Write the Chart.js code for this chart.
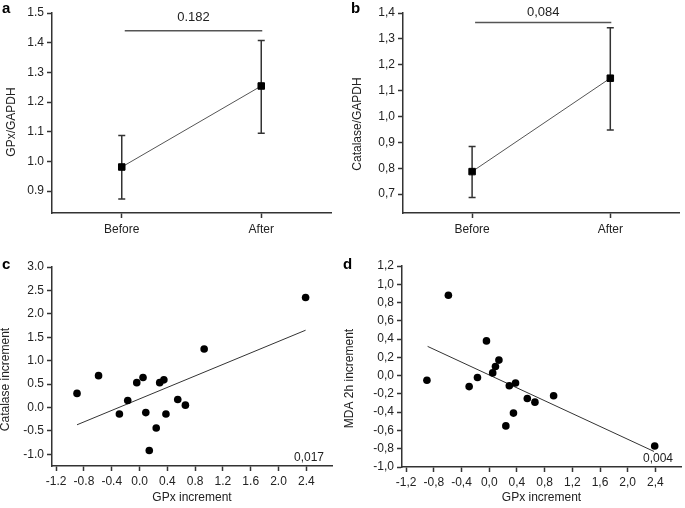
<!DOCTYPE html>
<html>
<head>
<meta charset="utf-8">
<script src="https://cdn.jsdelivr.net/npm/chart.js@4.4.0/dist/chart.umd.min.js"></script>
<style>
body { margin: 0; background: #fff; width: 685px; height: 508px; position: relative; overflow: hidden; font-family: "Liberation Sans", Arial, sans-serif; }
.panel { position: absolute; }
.tag { position: absolute; font-weight: bold; font-size: 15px; line-height: 15px; color: #000; }
</style>
</head>
<body>
<div class="panel" style="left:0;top:0"><canvas id="chartA" width="340" height="250"></canvas></div>
<div class="panel" style="left:340px;top:0"><canvas id="chartB" width="345" height="250"></canvas></div>
<div class="panel" style="left:0;top:250px"><canvas id="chartC" width="340" height="258"></canvas></div>
<div class="panel" style="left:340px;top:250px"><canvas id="chartD" width="345" height="258"></canvas></div>
<div class="tag" style="left:2px;top:0">a</div>
<div class="tag" style="left:351px;top:0">b</div>
<div class="tag" style="left:2px;top:256px">c</div>
<div class="tag" style="left:343px;top:256px">d</div>
<script>
//======================================================================================================
// Data
//======================================================================================================
var groups = ['Before', 'After'];

// panel a: GPx/GAPDH, mean with error bar
var gpxMean  = [0.981, 1.254];
var gpxLow   = [0.873, 1.095];
var gpxHigh  = [1.087, 1.407];
var gpxTicks = [0.9, 1.0, 1.1, 1.2, 1.3, 1.4, 1.5];

// panel b: Catalase/GAPDH
var catMean  = [0.787, 1.148];
var catLow   = [0.687, 0.948];
var catHigh  = [0.884, 1.343];
var catTicks = [0.7, 0.8, 0.9, 1.0, 1.1, 1.2, 1.3, 1.4];

// panels c and d: increments per subject
var gpxInc = [-0.90, -0.59, -0.29, -0.17, -0.04, 0.05, 0.09, 0.14, 0.24, 0.29, 0.35, 0.38, 0.55, 0.66, 0.93, 2.39];
var catInc = [ 0.30,  0.68, -0.14,  0.15,  0.53, 0.64, -0.11, -0.92, -0.44, 0.53, 0.59, -0.14, 0.17, 0.05, 1.25, 2.35];
var mdaInc = [-0.05,  0.88, -0.12, -0.02,  0.38, 0.03, 0.10, 0.17, -0.55, -0.11, -0.41, -0.08, -0.25, -0.29, -0.22, -0.77];

// regression lines (end points)
var fitCx = [-0.90, 2.39];
var fitCy = [-0.37, 1.65];
var fitDx = [-0.89, 2.38];
var fitDy = [0.32, -0.83];

var incTicksX   = [-1.2, -0.8, -0.4, 0.0, 0.4, 0.8, 1.2, 1.6, 2.0, 2.4];
var catIncTicks = [-1.0, -0.5, 0.0, 0.5, 1.0, 1.5, 2.0, 2.5, 3.0];
var mdaIncTicks = [-1.0, -0.8, -0.6, -0.4, -0.2, 0.0, 0.2, 0.4, 0.6, 0.8, 1.0, 1.2];

var FONT = '"Liberation Sans", Arial, sans-serif';
var INK = '#222';
var AXIS = '#333';

function fmt(v, comma)
{
	var s = Number(v).toFixed(1);
	return comma ? s.replace('.', ',') : s;
}

function pairs(xs, ys)
{
	var out = [];
	for (var i = 0; i < xs.length; i++)
		out.push({ x: xs[i], y: ys[i] });
	return out;
}

// value axis (left or bottom) with ticks taken from a list
function valueAxis(min, max, ticks, comma, size, horizontal, title)
{
	var ax = {
		type: 'linear',
		min: min,
		max: max,
		afterBuildTicks: function(s) { s.ticks = ticks.map(function(v) { return { value: v }; }); },
		afterFit: function(s) { if (horizontal) s.height = size; else s.width = size; },
		ticks: {
			color: INK, autoSkip: false, maxRotation: 0, padding: 3,
			font: { size: 12, family: FONT },
			callback: function(v) { return fmt(v, comma); }
		},
		grid: { drawOnChartArea: false, tickLength: 5, tickColor: AXIS, tickWidth: 1.5 },
		border: { color: AXIS, width: 1.5 }
	};
	if (title)
		ax.title = { display: true, text: title, color: INK, font: { size: 12, family: FONT }, padding: { top: 0, bottom: 3 } };
	return ax;
}

function groupAxis(size)
{
	return {
		type: 'category',
		offset: true,
		afterFit: function(s) { s.height = size; },
		ticks: { color: INK, padding: 4, font: { size: 12, family: FONT } },
		grid: { drawOnChartArea: false, tickLength: 5, tickColor: AXIS, tickWidth: 1.5 },
		border: { color: AXIS, width: 1.5 }
	};
}

// error bars, p-value bracket, corner p-value and y title
var extras = {
	id: 'extras',
	beforeDatasetsDraw: function(chart) {
		var o = chart.options.plugins.extras;
		if (!o || !o.low) return;
		var ctx = chart.ctx, xs = chart.scales.x, ys = chart.scales.y;
		ctx.save();
		ctx.strokeStyle = AXIS;
		ctx.lineWidth = 1.5;
		for (var i = 0; i < o.low.length; i++)
		{
			var x = xs.getPixelForValue(i);
			var y0 = ys.getPixelForValue(o.low[i]);
			var y1 = ys.getPixelForValue(o.high[i]);
			ctx.beginPath();
			ctx.moveTo(x, y0); ctx.lineTo(x, y1);
			ctx.moveTo(x - 3.5, y0); ctx.lineTo(x + 3.5, y0);
			ctx.moveTo(x - 3.5, y1); ctx.lineTo(x + 3.5, y1);
			ctx.stroke();
		}
		ctx.restore();
	},
	afterDraw: function(chart) {
		var o = chart.options.plugins.extras;
		if (!o) return;
		var ctx = chart.ctx, area = chart.chartArea;
		ctx.save();
		ctx.fillStyle = INK;
		ctx.font = '12px ' + FONT;
		if (o.bracket)
		{
			var xs = chart.scales.x, ys = chart.scales.y;
			var bx0 = xs.getPixelForValue(0) + 3, bx1 = xs.getPixelForValue(1) + 1;
			var by = ys.getPixelForValue(o.bracket.y);
			ctx.strokeStyle = '#555';
			ctx.lineWidth = 1.5;
			ctx.beginPath(); ctx.moveTo(bx0, by); ctx.lineTo(bx1, by); ctx.stroke();
			ctx.font = '13px ' + FONT;
			ctx.textAlign = 'center';
			ctx.textBaseline = 'middle';
			ctx.fillText(o.bracket.text, (bx0 + bx1) / 2, by - o.bracket.gap);
		}
		if (o.corner)
		{
			ctx.font = '12px ' + FONT;
			ctx.textAlign = 'right';
			ctx.textBaseline = 'bottom';
			ctx.fillText(o.corner, area.right - 8, area.bottom - 2);
		}
		if (o.ytitle)
		{
			ctx.font = '12px ' + FONT;
			ctx.textAlign = 'center';
			ctx.textBaseline = 'middle';
			ctx.translate(o.ytitle.x, (area.top + area.bottom) / 2 + o.ytitle.dy);
			ctx.rotate(-Math.PI / 2);
			ctx.fillText(o.ytitle.text, 0, 0);
		}
		ctx.restore();
	}
};

function meanChart(id, means, low, high, ticks, min, max, comma, yWidth, rightPad, bracket, ytitle)
{
	return new Chart(document.getElementById(id), {
		type: 'line',
		data: {
			labels: groups,
			datasets: [{
				data: means,
				borderColor: '#555',
				borderWidth: 1,
				pointStyle: 'rect',
				pointRadius: 4.6,
				pointBackgroundColor: '#000',
				pointBorderColor: '#000',
				pointBorderWidth: 1
			}]
		},
		options: {
			responsive: false, animation: false, events: [],
			layout: { padding: { top: 13, right: rightPad, left: 0, bottom: 0 } },
			plugins: {
				legend: { display: false }, tooltip: { enabled: false },
				extras: { low: low, high: high, bracket: bracket, ytitle: ytitle }
			},
			scales: {
				x: groupAxis(37),
				y: valueAxis(min, max, ticks, comma, yWidth, false, null)
			}
		},
		plugins: [extras]
	});
}

function incChart(id, ys, fitX, fitY, ticks, min, max, comma, yWidth, topPad, rightPad, corner, ytitle, xHeight)
{
	return new Chart(document.getElementById(id), {
		type: 'scatter',
		data: {
			datasets: [{
				data: pairs(gpxInc, ys),
				pointRadius: 3.8,
				pointBackgroundColor: '#000',
				pointBorderColor: '#000',
				pointBorderWidth: 0
			}, {
				type: 'line',
				data: pairs(fitX, fitY),
				showLine: true,
				borderColor: AXIS,
				borderWidth: 1,
				pointRadius: 0
			}]
		},
		options: {
			responsive: false, animation: false, events: [],
			layout: { padding: { top: topPad, right: rightPad, left: 0, bottom: 0 } },
			plugins: {
				legend: { display: false }, tooltip: { enabled: false },
				extras: { corner: corner, ytitle: ytitle }
			},
			scales: {
				x: valueAxis(-1.26, 2.77, incTicksX, comma, xHeight, true, 'GPx increment'),
				y: valueAxis(min, max, ticks, comma, yWidth, false, null)
			}
		},
		plugins: [extras]
	});
}

meanChart('chartA', gpxMean, gpxLow, gpxHigh, gpxTicks, 0.826, 1.5, false, 52, 9,
	{ y: 1.44, text: '0.182', gap: 13 }, { text: 'GPx/GAPDH', x: 12, dy: 9 });
meanChart('chartB', catMean, catLow, catHigh, catTicks, 0.627, 1.4, true, 63, 2,
	{ y: 1.363, text: '0,084', gap: 10 }, { text: 'Catalase/GAPDH', x: 18, dy: 11 });
incChart('chartC', catInc, fitCx, fitCy, catIncTicks, -1.25, 3.0, false, 52, 17, 8, '0,017',
	{ text: 'Catalase increment', x: 6, dy: 13 }, 42);
incChart('chartD', mdaInc, fitDx, fitDy, mdaIncTicks, -1.0, 1.2, true, 62, 16, 2, '0,004',
	{ text: 'MDA 2h increment', x: 10, dy: 12 }, 41);
</script>
</body>
</html>
